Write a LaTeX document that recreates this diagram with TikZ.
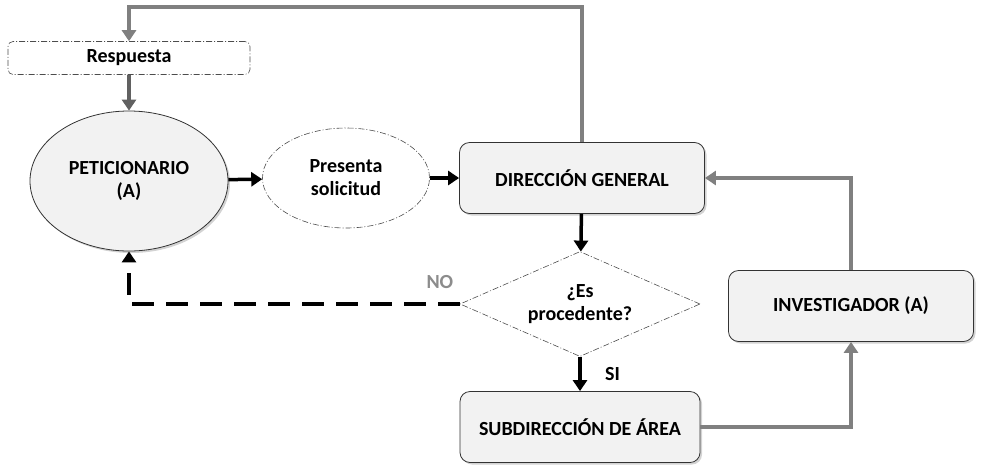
\documentclass[tikz,border=0pt]{standalone}
\usepackage{fontspec}
\setmainfont{Carlito}
\usetikzlibrary{positioning,shapes.geometric,arrows.meta,shadows}
\tikzset{
  box/.style={draw=black!80,fill=black!5,rounded corners=10pt,line width=0.8pt,
    minimum width=245pt,minimum height=71pt,align=center,
    drop shadow={shadow xshift=2pt,shadow yshift=-2pt,opacity=0.35}},
  dashdot/.style={draw=black!70,line width=0.6pt,dash pattern=on 6pt off 2pt on 1pt off 2pt},
  flow/.style={line width=3.5pt,-{Triangle[length=11pt,width=14pt]}},
  back/.style={flow,draw=black!50},
}
\begin{document}
\begin{tikzpicture}[x=1pt,y=-1pt,font=\bfseries\fontsize{20}{23}\selectfont]
\useasboundingbox (0,0) rectangle (981,464);
\node[dashdot,rounded corners=5pt,minimum width=242pt,minimum height=33pt] (resp) at (129,58) {Respuesta};
\node[ellipse,draw=black!80,fill=black!5,line width=0.8pt,minimum width=198pt,minimum height=140pt,align=center,
  drop shadow={shadow xshift=2pt,shadow yshift=-2pt,opacity=0.35}] (pet) at (129,181) {PETICIONARIO\\(A)};
\node[ellipse,dashdot,minimum width=167pt,minimum height=100pt,align=center] (pres) at (346,178) {Presenta\\solicitud};
\node[box] (dg) at (582,178) {DIRECCIÓN GENERAL};
\node[diamond,dashdot,aspect=2.3,minimum width=240pt,minimum height=105pt,inner sep=0pt,align=center] (dec) at (580,304) {¿Es\\procedente?};
\node[box,minimum width=240pt] (sub) at (580,427) {SUBDIRECCIÓN DE ÁREA};
\node[box] (inv) at (851,306) {INVESTIGADOR (A)};
\coordinate (top) at (129,7);
\draw[flow] (pet) -- (pres);
\draw[flow] (pres) -- (dg);
\draw[flow] (dg) -- (dec);
\draw[flow] (dec) -- node[right=20pt] {SI} (sub);
\draw[back] (dg.north) |- (top) -- (resp.north);
\draw[back,draw=black!62] (resp) -- (pet);
\draw[back] (sub.east) -| (inv.south);
\draw[back] (inv.north) |- (dg.east);
\draw[flow,dash pattern=on 22pt off 12pt] (dec.west) -| node[pos=0.03,above=10pt,text=black!45] {NO} (pet.south);
\end{tikzpicture}
\end{document}
